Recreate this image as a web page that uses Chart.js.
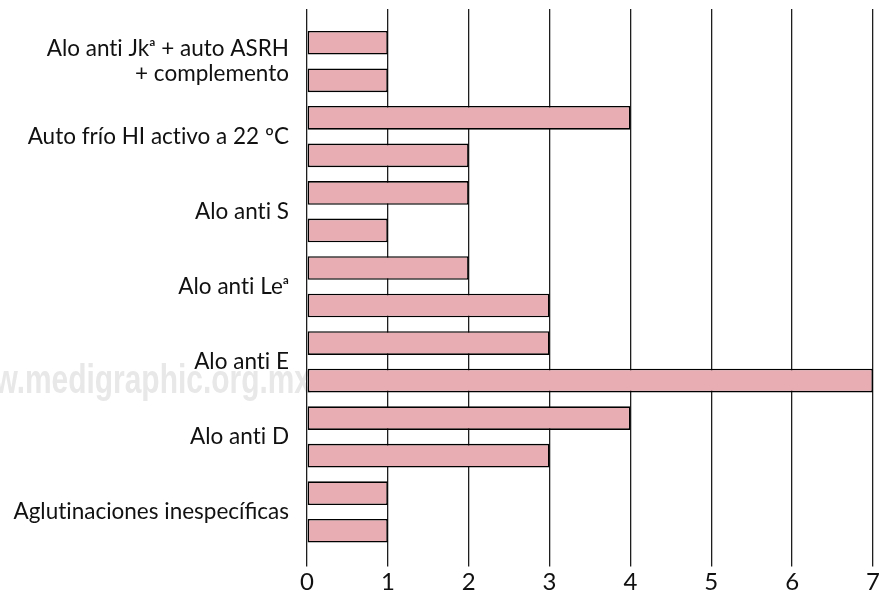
<!DOCTYPE html>
<html lang="es">

<head>
    <meta charset="UTF-8" />
    <title>Aloanticuerpos y autoanticuerpos</title>
    <script src="https://cdn.jsdelivr.net/npm/chart.js@4.4.0/dist/chart.umd.min.js"></script>
    <style>
        html, body { margin: 0; padding: 0; background: #fff; }
        .wrap { position: relative; width: 887px; height: 602px; }
    </style>
</head>

<body>
    <div class="wrap">
        <canvas id="barChart"></canvas>
    </div>

    <script>
        // chart data
        const categories = [
            ['Alo anti Jkᵃ + auto ASRH', '+ complemento'],
            'Auto frío HI activo a 22 ºC',
            'Alo anti S',
            'Alo anti Leᵃ',
            'Alo anti E',
            'Alo anti D',
            'Aglutinaciones inespecíficas'
        ];
        const seriesTop = [1, 4, 2, 2, 3, 4, 1];
        const seriesBottom = [1, 2, 1, 3, 7, 3, 1];
        const xMin = 0;
        const xMax = 7;

        const barFill = '#e7adb2';
        const lineColor = '#1e1e1e';
        const family = 'Lato, "Open Sans", sans-serif';

        // Lato joins "ti" into a ligature, the original font does not
        const noLig = (s) => s.replace(/ti/g, 't\u200Ci');

        // faint watermark behind the plot
        const watermark = {
            id: 'watermark',
            beforeDraw(chart) {
                const ctx = chart.ctx;
                ctx.save();
                ctx.font = 'bold 41px "Liberation Sans", Arial, sans-serif';
                ctx.fillStyle = '#e8e8e8';
                ctx.textAlign = 'right';
                ctx.textBaseline = 'alphabetic';
                ctx.scale(0.73, 1);
                ctx.fillText('www.medigraphic.org.mx', 311 / 0.73, 393);
                ctx.restore();
            }
        };

        const dataset = (values) => ({
            data: values,
            backgroundColor: barFill,
            borderColor: '#000',
            borderWidth: 1.6,
            borderSkipped: false,
            categoryPercentage: 1.0,
            barPercentage: 0.63
        });

        new Chart(document.getElementById('barChart'), {
            type: 'bar',
            data: {
                labels: categories,
                datasets: [dataset(seriesTop), dataset(seriesBottom)]
            },
            options: {
                indexAxis: 'y',
                responsive: true,
                maintainAspectRatio: false,
                animation: false,
                layout: { padding: { top: 9, right: 14, bottom: 6.5, left: 0 } },
                plugins: {
                    legend: { display: false },
                    tooltip: { enabled: false }
                },
                scales: {
                    x: {
                        position: 'bottom',
                        min: xMin,
                        max: xMax,
                        ticks: { stepSize: 1, padding: 4, color: '#111', font: { family, size: 24, lineHeight: 1.02 } },
                        grid: { color: lineColor, lineWidth: 1.3, drawTicks: true, tickLength: 17, tickColor: lineColor },
                        border: { display: false },
                        afterFit: (scale) => { scale.height = 46; }
                    },
                    xTop: {
                        position: 'top',
                        axis: 'x',
                        min: xMin,
                        max: xMax,
                        ticks: { stepSize: 1, display: false },
                        grid: { drawOnChartArea: false, drawTicks: true, tickLength: 15, tickColor: lineColor, lineWidth: 1.3 },
                        border: { display: false },
                        afterFit: (scale) => { scale.height = 15; }
                    },
                    y: {
                        grid: { display: false, drawTicks: false },
                        border: { display: false },
                        ticks: {
                            padding: 18,
                            color: '#111',
                            font: { family, size: 22.5, lineHeight: 1.1 },
                            callback: function (value) {
                                const label = this.getLabelForValue(value);
                                return Array.isArray(label) ? label.map(noLig) : noLig(label);
                            }
                        },
                        afterFit: (scale) => {
                            scale.width = 307;
                            scale.paddingTop = 0;
                            scale.paddingBottom = 0;
                        }
                    }
                }
            },
            plugins: [watermark]
        });
    </script>
</body>

</html>
